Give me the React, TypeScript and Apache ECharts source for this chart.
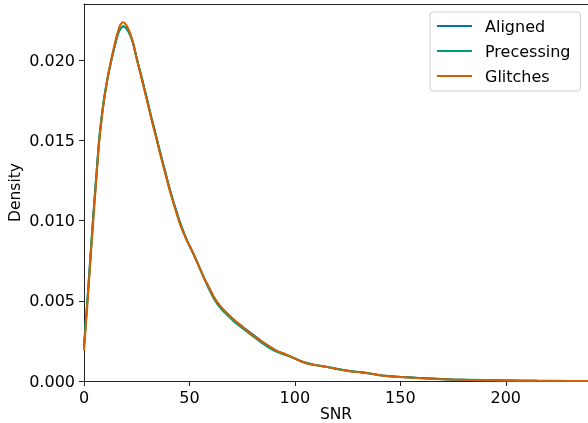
import React, { useEffect, useRef } from "react";
import * as echarts from "echarts";

const snr = [
  0, 1, 2, 3, 4, 5, 6, 7, 8, 9,
  10, 11.5, 13, 14.2, 15, 16, 17, 18.5, 20, 21.8,
  23.4, 25, 27.4, 28.5, 30, 32, 34.5, 36, 38.4, 41,
  44, 46, 48.7, 52, 55, 57, 59, 61.7, 65, 68,
  71.2, 75, 79, 84, 88.6, 92, 95, 100, 105, 110,
  115, 120, 126, 134, 142, 150, 158, 166, 175, 190,
  200, 215, 230, 239,
];

const aligned = [
  0.0021, 0.0039, 0.0057, 0.0076, 0.0095, 0.0113, 0.013, 0.0147, 0.016, 0.0171,
  0.018, 0.0191, 0.02, 0.0207, 0.0211, 0.0216, 0.0219, 0.02212, 0.022, 0.0216,
  0.021, 0.0201, 0.0189, 0.0183, 0.0175, 0.0164, 0.0151, 0.0143, 0.0131, 0.0118,
  0.0105, 0.0097, 0.0088, 0.0079, 0.007, 0.0064, 0.0059, 0.0052, 0.0046, 0.0042,
  0.0038, 0.0034, 0.003, 0.0025, 0.0021, 0.00183, 0.00169, 0.0014, 0.00114, 0.00099,
  0.00089, 0.00075, 0.00062, 0.0005, 0.00033, 0.00025, 0.00019, 0.00014, 0.00009, 0.00005,
  0.00003, 0.00001, 0.000005, 0.000003,
];

const precessing = [
  0.0022, 0.004, 0.0058, 0.0077, 0.0096, 0.0114, 0.0131, 0.0148, 0.0161, 0.0171,
  0.018, 0.0191, 0.02, 0.0207, 0.0211, 0.0216, 0.0219, 0.0221, 0.022, 0.0216,
  0.021, 0.0201, 0.0189, 0.0183, 0.0175, 0.0164, 0.0151, 0.0143, 0.0131, 0.0118,
  0.0105, 0.0097, 0.0088, 0.0079, 0.007, 0.0064, 0.0058, 0.0051, 0.0045, 0.0041,
  0.0037, 0.0033, 0.0029, 0.0024, 0.002, 0.00178, 0.00165, 0.0014, 0.00115, 0.00099,
  0.00088, 0.00076, 0.00062, 0.0005, 0.00034, 0.00026, 0.0002, 0.00015, 0.0001, 0.00006,
  0.00003, 0.000015, 0.000006, 0.000003,
];

const glitches = [
  0.0019, 0.0037, 0.0055, 0.0074, 0.0093, 0.0111, 0.0128, 0.0146, 0.0159, 0.017,
  0.0179, 0.0191, 0.0201, 0.0208, 0.02125, 0.02175, 0.02215, 0.02236, 0.0222, 0.0217,
  0.021, 0.0201, 0.0188, 0.0182, 0.0174, 0.0163, 0.015, 0.0142, 0.013, 0.0117,
  0.0104, 0.0096, 0.0088, 0.0079, 0.007, 0.0064, 0.0059, 0.0052, 0.0046, 0.0042,
  0.0038, 0.0034, 0.00295, 0.0025, 0.0021, 0.00185, 0.0017, 0.0014, 0.00112, 0.00098,
  0.00088, 0.00074, 0.00061, 0.0005, 0.00033, 0.00025, 0.00018, 0.00013, 0.00009, 0.00005,
  0.00003, 0.00001, 0.000005, 0.000003,
];

const seriesNames = ["Aligned", "Precessing", "Glitches"];
const seriesColors = ["#0173b2", "#029e73", "#d55e00"];
const xTicks = [0, 50, 100, 150, 200];
const yTicks = [0, 0.005, 0.01, 0.015, 0.02];

export default function App() {
  const ref = useRef<HTMLDivElement>(null);
  useEffect(() => {
    const chart = echarts.init(ref.current!, null, { renderer: "svg" });
    const font = "DejaVu Sans";
    const axisColor = "#222";
    const toPairs = (arr: number[]) => snr.map((x, i) => [x, arr[i]]);
    const data = [aligned, precessing, glitches];
    chart.setOption({
      animation: false,
      textStyle: { fontFamily: font },
      grid: { left: 84, top: 4, right: 0, bottom: 42, containLabel: false, outerBoundsMode: "none" },
      legend: {
        orient: "vertical",
        left: 430,
        top: 12,
        icon: "rect",
        itemWidth: 35,
        itemHeight: 2,
        itemGap: 7,
        padding: [5, 10, 6, 7],
        backgroundColor: "rgba(255,255,255,0.8)",
        borderColor: "#cccccc",
        borderWidth: 1,
        borderRadius: 3,
        textStyle: { fontFamily: font, fontSize: 16, color: "#000", lineHeight: 18, padding: [0, 0, 0, 8] },
        data: seriesNames,
      },
      xAxis: [
        {
          type: "value",
          min: 0,
          max: 239,
          interval: 50,
          name: "SNR",
          nameLocation: "middle",
          nameGap: 25,
          nameMoveOverlap: false,
          nameTextStyle: { fontFamily: font, fontSize: 15.5, color: "#000" },
          axisLine: { show: true, lineStyle: { color: axisColor, width: 1 } },
          axisTick: { show: true, inside: false, length: 5, lineStyle: { color: axisColor }, customValues: xTicks },
          axisLabel: { customValues: xTicks, fontFamily: font, fontSize: 16, color: "#000", margin: 8 },
          splitLine: { show: false },
        },
        {
          type: "value",
          position: "top",
          min: 0,
          max: 239,
          axisLine: { show: true, onZero: false, lineStyle: { color: axisColor, width: 1 } },
          axisTick: { show: false },
          axisLabel: { show: false },
          splitLine: { show: false },
        },
      ],
      yAxis: {
        type: "value",
        min: 0,
        max: 0.0235,
        name: "Density",
        nameLocation: "middle",
        nameRotate: 90,
        nameGap: 61,
        nameMoveOverlap: false,
        nameTextStyle: { fontFamily: font, fontSize: 15.5, color: "#000" },
        axisLine: { show: true, lineStyle: { color: axisColor, width: 1 } },
        axisTick: { show: true, inside: false, length: 5, lineStyle: { color: axisColor }, customValues: yTicks },
        axisLabel: {
          customValues: yTicks,
          fontFamily: font,
          fontSize: 16,
          color: "#000",
          margin: 9,
          formatter: (v: number) => v.toFixed(3),
        },
        splitLine: { show: false },
      },
      series: seriesNames.map((name, i) => ({
        name,
        type: "line",
        xAxisIndex: 0,
        data: toPairs(data[i]),
        symbol: "none",
        showSymbol: false,
        smooth: 0.3,
        color: seriesColors[i],
        lineStyle: { color: seriesColors[i], width: 2 },
        z: 2 + i,
      })),
    });
    return () => chart.dispose();
  }, []);
  return (
    <div
      ref={ref}
      style={{ position: "fixed", left: 0, top: 0, width: 588, height: 423 }}
    />
  );
}
